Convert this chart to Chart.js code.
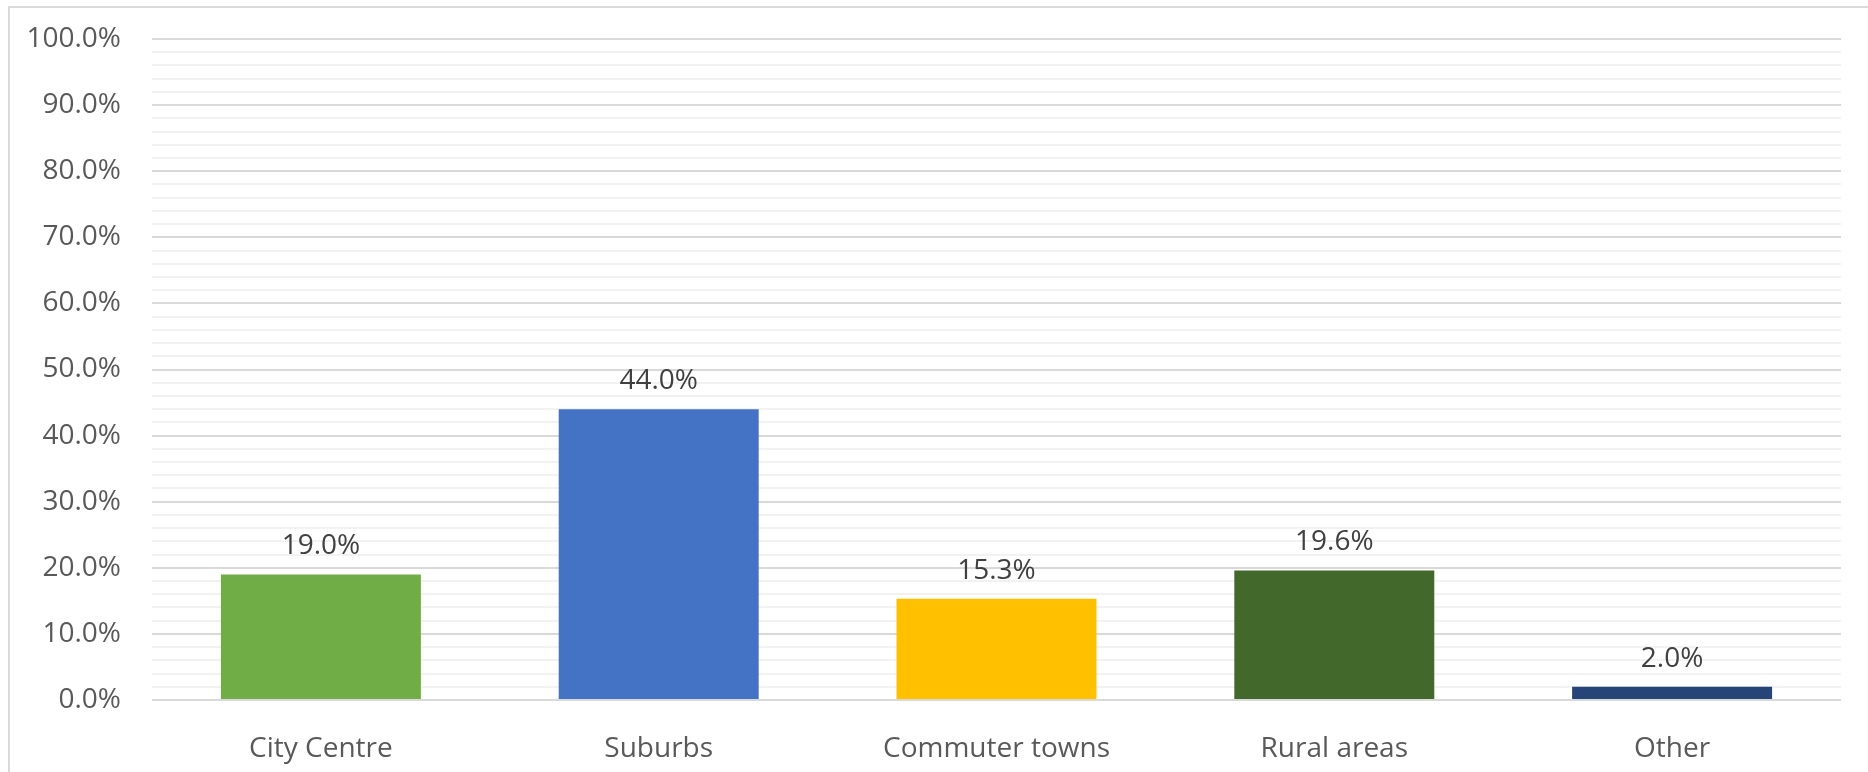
<!DOCTYPE html>
<html>
<head>
<meta charset="utf-8">
<script src="https://cdn.jsdelivr.net/npm/chart.js@4/dist/chart.umd.min.js"></script>
<style>
  html, body { margin: 0; padding: 0; background: #fff; overflow: hidden; }
  #frame { position: absolute; left: 8px; top: 6px; width: 2000px; height: 900px;
           border-left: 2px solid #d9d9d9; border-top: 2px solid #d9d9d9; }
  #wrap { position: absolute; left: 0; top: 0; width: 1868px; height: 772px; }
</style>
</head>
<body>
<div id="frame"></div>
<div id="wrap"><canvas id="chart" width="1868" height="772"></canvas></div>
<script>
let areas = ['City Centre', 'Suburbs', 'Commuter towns', 'Rural areas', 'Other'];
let shares = [19.0, 44.0, 15.3, 19.6, 2.0];
let barColours = ['#70ad47', '#4472c4', '#ffc000', '#43682b', '#264478'];

// value labels above each bar
const barLabels = {
    id: 'barLabels',
    afterDatasetsDraw(chart) {
        const ctx = chart.ctx;
        const meta = chart.getDatasetMeta(0);
        ctx.save();
        ctx.font = '28px "Open Sans"';
        ctx.fillStyle = '#404040';
        ctx.textAlign = 'center';
        ctx.textBaseline = 'middle';
        meta.data.forEach((bar, i) => {
            ctx.fillText(shares[i].toFixed(1) + '%', bar.x, bar.y - 28);
        });
        ctx.restore();
    }
};

function getChart(){
    const ctx = document.getElementById('chart').getContext('2d');
    const chart = new Chart(ctx, {
        type: 'bar',
        data: {
            labels: areas,
            datasets: [{
                data: shares,
                backgroundColor: barColours,
                borderWidth: 0,
                categoryPercentage: 1,
                barPercentage: 0.592
            }]
        },
        options: {
            responsive: false,
            animation: false,
            layout: { padding: { top: 39, right: 27, left: 0, bottom: 0 } },
            plugins: {
                legend: { display: false },
                tooltip: { enabled: false }
            },
            scales: {
                x: {
                    grid: { display: false },
                    border: { display: false },
                    ticks: {
                        color: '#595959',
                        font: { family: 'Open Sans', size: 28 },
                        padding: 24
                    },
                    afterFit(scale) {
                        scale.height = 72;
                        scale.paddingLeft = 0;
                        scale.paddingRight = 0;
                    }
                },
                y: {
                    min: 0,
                    max: 100,
                    border: { display: false },
                    grid: {
                        drawTicks: false,
                        lineWidth: 2,
                        color: c => (c.tick.value % 10 === 0) ? '#d9d9d9' : '#f2f2f2'
                    },
                    ticks: {
                        stepSize: 2,
                        autoSkip: false,
                        padding: 31,
                        color: '#595959',
                        font: { family: 'Open Sans', size: 28 },
                        callback: v => (v % 10 === 0) ? v.toFixed(1) + '%' : ''
                    },
                    afterFit(scale) {
                        scale.width = 152;
                        scale.paddingTop = 0;
                        scale.paddingBottom = 0;
                    }
                }
            }
        },
        plugins: [barLabels]
    });
}

getChart();
</script>
</body>
</html>
